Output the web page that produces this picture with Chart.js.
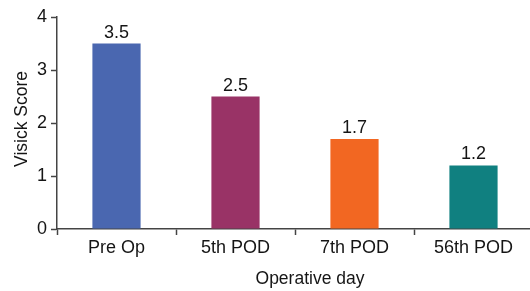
<!DOCTYPE html>
<html><head><meta charset="utf-8">
<script src="https://cdn.jsdelivr.net/npm/chart.js@4"></script>
<style>html,body{margin:0;padding:0;background:#fff;overflow:hidden}#wrap{width:533px;height:291px}</style>
</head><body><div id="wrap"><canvas id="c" width="533" height="291"></canvas></div>
<script>
const categories = ["Pre Op", "5th POD", "7th POD", "56th POD"];
const scores = [3.5, 2.5, 1.7, 1.2];
const barColors = ["#4A67B0", "#993366", "#F26722", "#108080"];
const yTicks = [0, 1, 2, 3, 4];
const xTitle = "Operative day";
const yTitle = "Visick Score";

const FONT = "'Liberation Sans', Arial, sans-serif";
const textColor = "#151515";

const labelsPlugin = {
  id: "labels",
  afterDatasetsDraw(chart) {
    const ctx = chart.ctx;
    const meta = chart.getDatasetMeta(0);
    ctx.save();
    ctx.fillStyle = textColor;
    ctx.font = "18px " + FONT;
    ctx.textAlign = "center";
    ctx.textBaseline = "alphabetic";
    meta.data.forEach((bar, i) => {
      ctx.fillText(scores[i].toFixed(1), bar.x, bar.y - 6);
    });
    // axis titles
    const ca = chart.chartArea;
    ctx.font = "17.5px " + FONT;
    ctx.textBaseline = "middle";
    ctx.fillText(xTitle, 310, 279);
    ctx.translate(22, (ca.top + ca.bottom) / 2 - 4);
    ctx.rotate(-Math.PI / 2);
    ctx.fillText(yTitle, 0, 0);
    ctx.restore();
  }
};

new Chart(document.getElementById("c"), {
  type: "bar",
  data: {
    labels: categories,
    datasets: [{ data: scores, backgroundColor: barColors, borderWidth: 0,
      barPercentage: 0.405, categoryPercentage: 1.0 }]
  },
  options: {
    responsive: false,
    animation: false,
    devicePixelRatio: 1,
    layout: { padding: { top: 17, right: 0, left: 0, bottom: 0 } },
    plugins: { legend: { display: false }, tooltip: { enabled: false } },
    scales: {
      x: {
        offset: true,
        grid: { display: true, offset: true, drawOnChartArea: false, drawTicks: true, tickLength: 6, color: "#444", tickWidth: 1.5 },
        border: { display: true, color: "#444", width: 1.5 },
        ticks: { color: textColor, font: { size: 18, family: FONT }, padding: 2 },
        afterFit(s) { s.height = 62; }
      },
      y: {
        min: 0, max: 4,
        afterBuildTicks(s) { s.ticks = yTicks.map(v => ({ value: v })); },
        grid: { display: true, drawOnChartArea: false, drawTicks: true, tickLength: 6, color: "#444", tickWidth: 1.5 },
        border: { display: true, color: "#444", width: 1.5 },
        ticks: { color: textColor, font: { size: 18, family: FONT }, padding: 4 },
        afterFit(s) { s.width = 57; }
      }
    }
  },
  plugins: [labelsPlugin]
});
</script></body></html>
